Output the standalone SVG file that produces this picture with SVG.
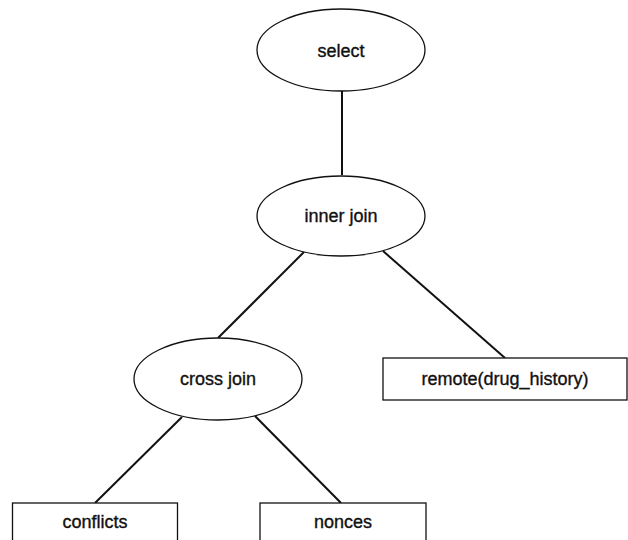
<svg xmlns="http://www.w3.org/2000/svg" width="628" height="540" viewBox="0 0 628 540">
<style>
.shape{fill:#fff;stroke:#111;stroke-width:1.3}
.edge{stroke:#111;stroke-width:2;fill:none}
.lbl{font-family:"Liberation Sans",Arial,sans-serif;font-size:18px;fill:#111;stroke:#111;stroke-width:0.35;text-anchor:middle}
</style>
<rect width="628" height="540" fill="#fff"/>
<g id="connectors">
<line class="edge" x1="342" y1="91" x2="342" y2="175"/>
<line class="edge" x1="304" y1="252" x2="218" y2="338"/>
<line class="edge" x1="383" y1="251" x2="505" y2="358"/>
<line class="edge" x1="182" y1="417" x2="95" y2="503"/>
<line class="edge" x1="255" y1="416" x2="341" y2="503"/>
</g>
<g id="select">
<ellipse class="shape" cx="341" cy="50" rx="84" ry="41"/>
<text class="lbl" x="341" y="57">select</text>
</g>
<g id="inner_join">
<ellipse class="shape" cx="341" cy="216" rx="84" ry="40"/>
<text class="lbl" x="341" y="222">inner join</text>
</g>
<g id="cross_join">
<ellipse class="shape" cx="218" cy="379" rx="84" ry="41"/>
<text class="lbl" x="218" y="385">cross join</text>
</g>
<g id="remote">
<rect class="shape" x="383" y="358" width="244" height="42"/>
<text class="lbl" x="505" y="385">remote(drug_history)</text>
</g>
<g id="conflicts">
<rect class="shape" x="12.5" y="503" width="165" height="45"/>
<text class="lbl" x="95" y="528">conflicts</text>
</g>
<g id="nonces">
<rect class="shape" x="260" y="503" width="166" height="45"/>
<text class="lbl" x="343" y="528">nonces</text>
</g>
</svg>
